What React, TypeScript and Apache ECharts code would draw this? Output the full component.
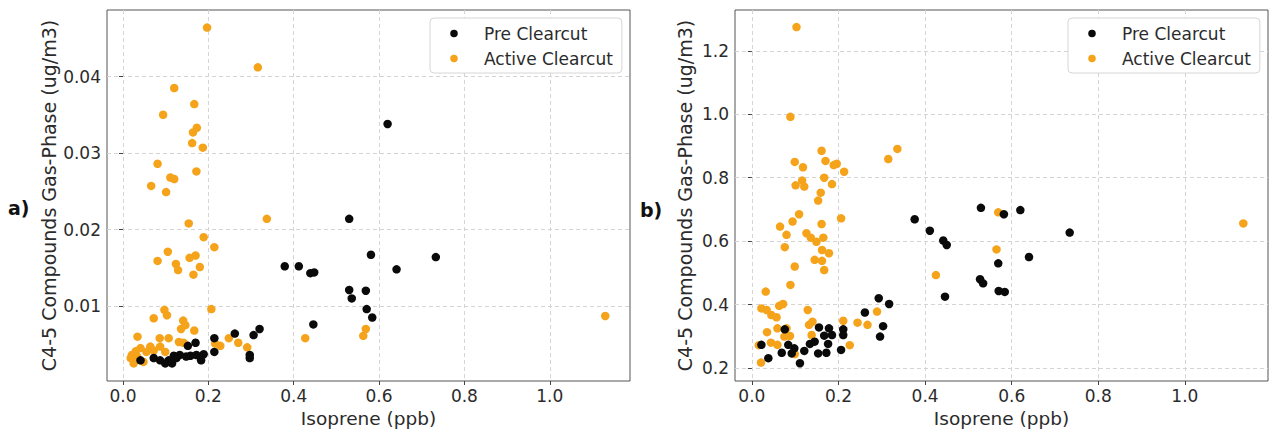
import React, { useEffect, useRef } from "react";
import * as echarts from "echarts";

const seriesNames = ["Pre Clearcut", "Active Clearcut"];
const xTicks = [0, 0.2, 0.4, 0.6, 0.8, 1.0];
const yTicksA = [0.01, 0.02, 0.03, 0.04];
const yTicksB = [0.2, 0.4, 0.6, 0.8, 1.0, 1.2];

const preA: number[][] = [
  [0.620, 0.0338], [0.530, 0.0214], [0.581, 0.0167], [0.733, 0.0164], [0.641, 0.0148],
  [0.379, 0.0152], [0.412, 0.0152], [0.439, 0.0143], [0.448, 0.0144], [0.530, 0.0121],
  [0.569, 0.0120], [0.536, 0.0110], [0.571, 0.0096], [0.584, 0.0085], [0.446, 0.0076],
  [0.320, 0.0070], [0.306, 0.0062], [0.262, 0.0064], [0.214, 0.0058], [0.170, 0.0052],
  [0.152, 0.0048], [0.297, 0.0036], [0.297, 0.0032], [0.214, 0.0040], [0.189, 0.0037],
  [0.183, 0.0029], [0.172, 0.0036], [0.158, 0.0035], [0.133, 0.0036], [0.119, 0.0035],
  [0.107, 0.0029], [0.115, 0.0025], [0.099, 0.0025], [0.087, 0.0029], [0.072, 0.0032],
  [0.041, 0.0029], [0.125, 0.0032], [0.148, 0.0034],
];

const activeA: number[][] = [
  [0.197, 0.0464], [0.316, 0.0412], [0.120, 0.0385], [0.167, 0.0364], [0.094, 0.0350],
  [0.173, 0.0333], [0.164, 0.0327], [0.162, 0.0313], [0.187, 0.0307], [0.081, 0.0286],
  [0.172, 0.0276], [0.111, 0.0268], [0.120, 0.0266], [0.066, 0.0257], [0.101, 0.0249],
  [0.154, 0.0208], [0.337, 0.0214], [0.189, 0.0190], [0.214, 0.0177], [0.105, 0.0171],
  [0.081, 0.0159], [0.156, 0.0163], [0.170, 0.0166], [0.124, 0.0155], [0.129, 0.0147],
  [0.180, 0.0151], [0.165, 0.0141], [0.207, 0.0096], [0.097, 0.0095], [0.103, 0.0088],
  [0.072, 0.0084], [0.141, 0.0081], [0.146, 0.0075], [0.136, 0.0070], [0.167, 0.0068],
  [0.034, 0.0060], [0.086, 0.0058], [0.107, 0.0058], [0.131, 0.0053], [0.142, 0.0052],
  [0.064, 0.0047], [0.087, 0.0047], [0.041, 0.0045], [0.021, 0.0036], [0.025, 0.0025],
  [0.048, 0.0027], [0.033, 0.0034], [0.072, 0.0042], [0.099, 0.0040], [0.216, 0.0051],
  [0.228, 0.0048], [0.248, 0.0058], [0.270, 0.0052], [0.291, 0.0046], [0.427, 0.0058],
  [0.569, 0.0070], [0.563, 0.0061], [1.130, 0.0087], [0.018, 0.0032], [0.055, 0.0040],
  [0.030, 0.0041],
];

const preB: number[][] = [
  [0.529, 0.705], [0.582, 0.685], [0.620, 0.698], [0.734, 0.627], [0.442, 0.602],
  [0.450, 0.588], [0.569, 0.530], [0.640, 0.550], [0.527, 0.480], [0.534, 0.467],
  [0.570, 0.443], [0.584, 0.440], [0.446, 0.425], [0.376, 0.669], [0.411, 0.633],
  [0.293, 0.420], [0.317, 0.402], [0.261, 0.375], [0.303, 0.332], [0.296, 0.299],
  [0.211, 0.322], [0.211, 0.304], [0.206, 0.257], [0.155, 0.328], [0.178, 0.325],
  [0.167, 0.302], [0.185, 0.304], [0.176, 0.276], [0.172, 0.248], [0.153, 0.246],
  [0.145, 0.283], [0.134, 0.276], [0.121, 0.254], [0.111, 0.215], [0.098, 0.262],
  [0.084, 0.273], [0.069, 0.248], [0.076, 0.322], [0.038, 0.231], [0.022, 0.273],
  [0.092, 0.246],
];

const activeB: number[][] = [
  [0.103, 1.275], [0.089, 0.992], [0.336, 0.891], [0.315, 0.859], [0.161, 0.885],
  [0.099, 0.850], [0.170, 0.853], [0.189, 0.840], [0.196, 0.844], [0.118, 0.833],
  [0.213, 0.819], [0.116, 0.791], [0.167, 0.800], [0.101, 0.776], [0.121, 0.772],
  [0.185, 0.780], [0.159, 0.753], [0.153, 0.728], [0.109, 0.685], [0.206, 0.672],
  [0.094, 0.662], [0.065, 0.646], [0.161, 0.654], [0.080, 0.620], [0.126, 0.625],
  [0.136, 0.611], [0.149, 0.598], [0.165, 0.611], [0.076, 0.581], [0.162, 0.572],
  [0.178, 0.562], [0.145, 0.541], [0.162, 0.538], [0.167, 0.509], [0.099, 0.520],
  [0.089, 0.462], [0.032, 0.441], [0.022, 0.388], [0.034, 0.383], [0.063, 0.396],
  [0.072, 0.402], [0.045, 0.367], [0.057, 0.360], [0.129, 0.383], [0.140, 0.346],
  [0.132, 0.336], [0.059, 0.325], [0.080, 0.325], [0.035, 0.313], [0.075, 0.299],
  [0.088, 0.301], [0.138, 0.304], [0.044, 0.280], [0.059, 0.273], [0.016, 0.272],
  [0.099, 0.244], [0.021, 0.217], [0.211, 0.349], [0.244, 0.343], [0.267, 0.336],
  [0.289, 0.378], [0.226, 0.272], [0.425, 0.493], [0.565, 0.574], [1.135, 0.656],
  [0.569, 0.691],
];

const FONT = "DejaVu Sans";
const TEXT = "#2b2b2b";
const BLACK = "#0a0a0a";
const ORANGE = "#F5A31A";

// legend icon: a 7.5px dot placed inside a wider, invisible 39x8 box
const LEGEND_ICON =
  "path://M0,0 M39,8 M10.25,4 A3.75,3.75 0 1 1 17.75,4 A3.75,3.75 0 1 1 10.25,4 Z";

function xAxisFor(gridIndex: number, min: number, max: number) {
  return {
    type: "value",
    gridIndex,
    min,
    max,
    name: "Isoprene (ppb)",
    nameLocation: "middle",
    nameGap: 28,
    nameTextStyle: { fontFamily: FONT, fontSize: 18.5, color: TEXT },
    axisLine: { show: false },
    axisTick: { show: true, length: 4, lineStyle: { color: "#444" }, customValues: xTicks },
    axisLabel: {
      customValues: xTicks,
      formatter: (v: number) => v.toFixed(1),
      fontFamily: FONT,
      fontSize: 17,
      color: TEXT,
      margin: 6,
    },
    splitLine: { show: true, lineStyle: { color: "#d4d4d4", type: [4, 3], width: 1 } },
  };
}

function yAxisFor(gridIndex: number, min: number, max: number, ticks: number[], digits: number, gap: number) {
  return {
    type: "value",
    gridIndex,
    min,
    max,
    name: "C4-5 Compounds Gas-Phase (ug/m3)",
    nameLocation: "middle",
    nameGap: gap,
    nameTextStyle: { fontFamily: FONT, fontSize: 19, color: TEXT },
    axisLine: { show: false },
    axisTick: { show: true, length: 4, lineStyle: { color: "#444" }, customValues: ticks },
    axisLabel: {
      customValues: ticks,
      formatter: (v: number) => v.toFixed(digits),
      fontFamily: FONT,
      fontSize: 17,
      color: TEXT,
      margin: 6,
    },
    splitLine: { show: true, lineStyle: { color: "#d4d4d4", type: [4, 3], width: 1 } },
  };
}

function legendAt(left: number) {
  return {
    data: seriesNames.map((name) => ({ name, icon: LEGEND_ICON })),
    orient: "vertical",
    left,
    top: 18,
    itemWidth: 39,
    itemHeight: 8,
    itemGap: 6,
    padding: [6, 9, 5, 10],
    backgroundColor: "#ffffff",
    borderColor: "#d6d6d6",
    borderWidth: 1,
    borderRadius: 4,
    selectedMode: false,
    textStyle: { fontFamily: FONT, fontSize: 17, color: TEXT, lineHeight: 19 },
  };
}

function scatter(name: string, data: number[][], idx: number, color: string, z: number) {
  return {
    type: "scatter",
    name,
    data,
    xAxisIndex: idx,
    yAxisIndex: idx,
    symbol: "circle",
    symbolSize: 8.5,
    itemStyle: { color, opacity: 1 },
    z,
  };
}

export default function App() {
  const ref = useRef<HTMLDivElement>(null);
  useEffect(() => {
    document.body.style.margin = "0";
    if (!ref.current) return;
    const chart = echarts.init(ref.current, undefined, { renderer: "svg" });
    chart.setOption({
      animation: false,
      backgroundColor: "#ffffff",
      grid: [
        { left: 107, top: 10, width: 523, height: 371, show: true, borderColor: "#555", borderWidth: 1, backgroundColor: "transparent" },
        { left: 735, top: 10, width: 533, height: 371, show: true, borderColor: "#555", borderWidth: 1, backgroundColor: "transparent" },
      ],
      xAxis: [xAxisFor(0, -0.0375, 1.188), xAxisFor(1, -0.039, 1.192)],
      yAxis: [
        yAxisFor(0, 0.0002, 0.0487, yTicksA, 2, 49),
        yAxisFor(1, 0.159, 1.329, yTicksB, 1, 41),
      ],
      legend: [legendAt(430), legendAt(1068)],
      series: [
        scatter(seriesNames[1], activeA, 0, ORANGE, 2),
        scatter(seriesNames[0], preA, 0, BLACK, 3),
        scatter(seriesNames[1], activeB, 1, ORANGE, 2),
        scatter(seriesNames[0], preB, 1, BLACK, 3),
      ],
      graphic: [
        { type: "text", left: 8, top: 198, style: { text: "a)", fontFamily: FONT, fontSize: 19, fontWeight: "bold", fill: "#111" } },
        { type: "text", left: 640, top: 200, style: { text: "b)", fontFamily: FONT, fontSize: 19, fontWeight: "bold", fill: "#111" } },
      ],
    });
    return () => chart.dispose();
  }, []);
  return <div ref={ref} style={{ width: 1271, height: 435 }} />;
}
